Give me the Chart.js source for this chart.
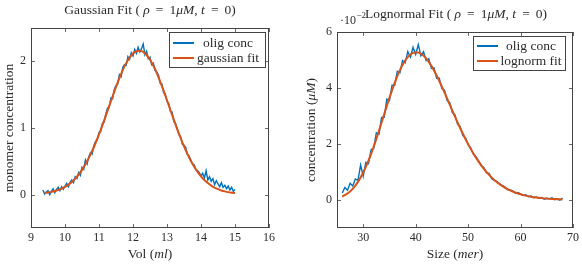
<!DOCTYPE html>
<html><head><meta charset="utf-8">
<script src="https://cdn.jsdelivr.net/npm/chart.js@4/dist/chart.umd.min.js"></script>
<style>
html,body{margin:0;padding:0;background:#fff;}
#wrap{position:relative;width:582px;height:267px;overflow:hidden;}
canvas{position:absolute;top:0;}
</style></head><body>
<div id="wrap">
<canvas id="c1" width="291" height="267" style="left:0"></canvas>
<canvas id="c2" width="291" height="267" style="left:291px"></canvas>
</div>
<script>
// ---------- Left panel: Gaussian fit ----------
const gaussOligVol = [9.35,9.4,9.45,9.5,9.55,9.6,9.65,9.7,9.75,9.8,9.85,9.9,9.95,
10,10.05,10.1,10.15,10.2,10.25,10.3,10.35,10.4,10.45,10.5,10.55,10.6,10.65,10.7,10.75,10.8,10.85,10.9,10.95,
11,11.05,11.1,11.15,11.2,11.25,11.3,11.35,11.4,11.45,11.5,11.55,11.6,11.65,11.7,11.75,11.8,11.85,11.9,11.95,
12,12.05,12.1,12.15,12.2,12.25,12.3,12.35,12.4,12.45,12.5,12.55,12.6,12.65,12.7,12.75,12.8,12.85,12.9,12.95,
13,13.05,13.1,13.15,13.2,13.25,13.3,13.35,13.4,13.45,13.5,13.55,13.6,13.65,13.7,13.75,13.8,13.85,13.9,13.95,
14,14.05,14.1,14.15,14.2,14.25,14.3,14.35,14.4,14.45,14.5,14.55,14.6,14.65,14.7,14.75,14.8,14.85,14.9,14.95,15];
const gaussOligConc = [0.07,0.01,0.04,0.06,0.00,0.05,0.09,0.03,0.08,0.11,0.06,0.12,0.08,
0.13,0.17,0.12,0.19,0.22,0.18,0.27,0.24,0.33,0.29,0.41,0.38,0.52,0.46,0.57,0.63,0.61,0.74,0.80,0.82,
0.93,0.95,1.07,1.09,1.21,1.30,1.31,1.45,1.44,1.58,1.64,1.66,1.80,1.77,1.91,1.95,1.94,2.07,2.03,2.13,
2.08,2.18,2.12,2.21,2.14,2.19,2.26,2.10,2.15,2.04,2.06,1.95,1.97,1.86,1.84,1.79,1.67,1.66,1.53,1.51,
1.40,1.37,1.25,1.24,1.10,1.07,0.99,0.90,0.87,0.76,0.74,0.71,0.60,0.58,0.52,0.46,0.45,0.37,0.36,0.33,
0.28,0.32,0.25,0.36,0.22,0.27,0.20,0.24,0.15,0.21,0.16,0.12,0.18,0.11,0.14,0.09,0.13,0.07,0.11,0.05,0.08];
const gaussFitVol = [9.4,9.5,9.6,9.7,9.8,9.9,10,10.1,10.2,10.3,10.4,10.5,10.6,10.7,10.8,10.9,
11,11.1,11.2,11.3,11.4,11.5,11.6,11.7,11.8,11.9,12,12.1,12.2,12.3,12.4,12.5,12.6,12.7,12.8,12.9,
13,13.1,13.2,13.3,13.4,13.5,13.6,13.7,13.8,13.9,14,14.1,14.2,14.3,14.4,14.5,14.6,14.7,14.8,14.9,15];
const gaussFitConc = [0.026,0.033,0.042,0.054,0.070,0.091,0.117,0.150,0.191,0.241,0.301,0.372,0.455,0.549,0.656,0.775,
0.903,1.040,1.183,1.329,1.474,1.616,1.749,1.869,1.973,2.056,2.116,2.151,2.160,2.141,2.095,2.025,1.933,1.823,1.697,1.560,
1.416,1.270,1.125,0.984,0.850,0.726,0.612,0.510,0.420,0.342,0.276,0.220,0.174,0.136,0.106,0.082,0.063,0.049,0.038,0.030,0.024];
const gaussXTicks = [9,10,11,12,13,14,15,16];
const gaussYTicks = [0,1,2];

// ---------- Right panel: Lognormal fit (concentration in units of 1e-2 uM) ----------
const lognOligSize = [26,26.5,27,27.5,28,28.5,29,29.5,30,30.5,31,31.5,32,32.5,33,33.5,34,34.5,35,35.5,
36,36.5,37,37.5,38,38.5,39,39.5,40,40.5,41,41.5,42,42.5,43,43.5,44,44.5,45,45.5,
46,46.5,47,47.5,48,48.5,49,49.5,50,50.5,51,51.5,52,52.5,53,53.5,54,54.5,55,55.5,
56,56.5,57,57.5,58,58.5,59,59.5,60,60.5,61,61.5,62,62.5,63,63.5,64,64.5,65,65.5,
66,66.5,67,67.5,68];
const lognOligConc = [0.25,0.45,0.35,0.60,0.50,0.75,0.70,1.25,0.85,1.35,1.30,1.80,1.85,2.40,2.35,2.95,2.95,3.60,3.55,4.10,
4.10,4.60,4.55,4.98,4.90,5.30,5.10,5.45,5.20,5.55,5.15,5.30,4.98,5.05,4.70,4.72,4.35,4.35,3.98,3.92,
3.55,3.48,3.12,3.04,2.70,2.62,2.30,2.22,1.98,1.86,1.64,1.55,1.40,1.22,1.16,0.97,0.95,0.76,0.70,0.66,
0.58,0.52,0.47,0.37,0.36,0.33,0.24,0.27,0.22,0.16,0.19,0.12,0.14,0.08,0.11,0.06,0.09,0.03,0.06,0.04,
0.08,0.01,0.04,-0.01,0.07];
const lognFitSize = [26,27,28,29,30,31,32,33,34,35,36,37,38,39,40,41,42,43,44,45,46,47,
48,49,50,51,52,53,54,55,56,57,58,59,60,61,62,63,64,65,66,67,68];
const lognFitConc = [0.124,0.231,0.400,0.646,0.980,1.403,1.906,2.470,3.063,3.645,4.183,4.638,4.983,5.199,5.280,5.228,5.059,4.790,4.445,4.047,3.624,3.191,
2.766,2.365,1.995,1.662,1.369,1.114,0.898,0.717,0.567,0.445,0.347,0.268,0.205,0.156,0.118,0.089,0.067,0.050,0.037,0.027,0.020];
const lognXTicks = [30,40,50,60,70];
const lognYTicks = [0,2,4,6];

const BLUE = '#0072BD', ORANGE = '#D95319', TXT = '#2b2b2b', FRAME = '#444444';
const FONT = '"Liberation Serif", "DejaVu Serif", serif';
const LBL = 13.5;

function pts(xs, ys){ return xs.map((x,i)=>({x:x, y:ys[i]})); }

function fontStr(size, it){ return (it ? 'italic ' : '') + size + 'px ' + FONT; }
function richWidth(ctx, segs, size){
  let w = 0;
  for (const s of segs){ ctx.font = fontStr(size, s[1]); w += ctx.measureText(s[0]).width; }
  return w;
}
function drawRich(ctx, segs, cx, cy, size, align){
  const w = richWidth(ctx, segs, size);
  let x = align === 'left' ? cx : cx - w/2;
  ctx.textBaseline = 'middle'; ctx.textAlign = 'left'; ctx.fillStyle = TXT;
  for (const s of segs){ ctx.font = fontStr(size, s[1]); ctx.fillText(s[0], x, cy); x += ctx.measureText(s[0]).width; }
}

const decoPlugin = {
  id: 'deco',
  beforeDatasetsDraw(chart){
    const o = chart.options.plugins.deco; const ctx = chart.ctx; const a = chart.chartArea;
    const xs = chart.scales.x, ys = chart.scales.y;
    ctx.save();
    ctx.strokeStyle = FRAME; ctx.lineWidth = 0.8;
    ctx.beginPath();
    for (const v of o.xTicks){ const p = Math.round(xs.getPixelForValue(v))+0.5;
      ctx.moveTo(p, a.bottom); ctx.lineTo(p, a.bottom-4); ctx.moveTo(p, a.top); ctx.lineTo(p, a.top+4); }
    for (const v of o.yTicks){ const p = Math.round(ys.getPixelForValue(v))+0.5;
      ctx.moveTo(a.left, p); ctx.lineTo(a.left+4, p); ctx.moveTo(a.right, p); ctx.lineTo(a.right-4, p); }
    ctx.stroke();
    ctx.lineWidth = 1;
    ctx.strokeRect(a.left+0.5, a.top+0.5, a.right-a.left-1, a.bottom-a.top-1);
    ctx.restore();
  },
  afterDatasetsDraw(chart){
    const o = chart.options.plugins.deco; const ctx = chart.ctx; const a = chart.chartArea;
    ctx.save();
    drawRich(ctx, o.title, o.titlePos[0], o.titlePos[1], LBL);
    drawRich(ctx, o.xLabel, (a.left+a.right)/2, o.xLabelY, LBL);
    ctx.save(); ctx.translate(o.yLabelX, (a.top+a.bottom)/2); ctx.rotate(-Math.PI/2);
    drawRich(ctx, o.yLabel, 0, 0, LBL); ctx.restore();
    if (o.expo){
      drawRich(ctx, [['\u00b710']], o.expo[0], o.expo[1], 12, 'left');
      ctx.font = fontStr(12, false); const w = ctx.measureText('\u00b710').width;
      drawRich(ctx, [['\u22122']], o.expo[0]+w+0.5, o.expo[1]-5, 9, 'left');
    }
    const L = o.legend;
    const bx = a.right - L.right - L.w, by = a.top + L.top;
    ctx.fillStyle = '#fff'; ctx.fillRect(bx, by, L.w, L.h);
    ctx.strokeStyle = FRAME; ctx.lineWidth = 1; ctx.strokeRect(bx+0.5, by+0.5, L.w-1, L.h-1);
    L.items.forEach((it, i) => {
      const yy = by + L.row0 + i*L.dy;
      ctx.strokeStyle = it.color; ctx.lineWidth = 2; ctx.beginPath();
      ctx.moveTo(bx+4, yy); ctx.lineTo(bx+25, yy); ctx.stroke();
      drawRich(ctx, [[it.text]], bx + L.textC, yy, LBL);
    });
    ctx.restore();
  }
};

function makeChart(id, cfg){
  return new Chart(document.getElementById(id), {
    type: 'line',
    data: { datasets: [
      { label: cfg.fitLabel, data: cfg.fit, borderColor: ORANGE, borderWidth: 2, pointRadius: 0, tension: 0.3, order: 0 },
      { label: 'olig conc', data: cfg.olig, borderColor: BLUE, borderWidth: 1.4, pointRadius: 0, tension: 0, order: 1 }
    ]},
    options: {
      responsive: false, animation: false, devicePixelRatio: 1,
      layout: { padding: { top: cfg.padTop, right: cfg.padRight, left: 0, bottom: 0 } },
      plugins: { legend: { display: false }, tooltip: { enabled: false }, title: { display: false },
        deco: cfg.deco },
      scales: {
        x: { type: 'linear', min: cfg.xMin, max: cfg.xMax,
          grid: { display: false, drawTicks: false }, border: { display: false },
          ticks: { padding: 3, color: TXT, font: { family: FONT, size: 12 }, maxRotation: 0 },
          afterBuildTicks: s => { s.ticks = cfg.deco.xTicks.map(v => ({ value: v })); },
          afterFit: s => { s.height = 39; } },
        y: { type: 'linear', min: cfg.yMin, max: cfg.yMax,
          grid: { display: false, drawTicks: false }, border: { display: false },
          ticks: { padding: 5, color: TXT, font: { family: FONT, size: 12 } },
          afterBuildTicks: s => { s.ticks = cfg.deco.yTicks.map(v => ({ value: v })); },
          afterFit: s => { s.width = cfg.yWidth; } }
      }
    },
    plugins: [decoPlugin]
  });
}

makeChart('c1', {
  fitLabel: 'gaussian fit',
  fit: pts(gaussFitVol, gaussFitConc), olig: pts(gaussOligVol, gaussOligConc),
  padTop: 28, padRight: 22, yWidth: 31, xMin: 9, xMax: 16, yMin: -0.5, yMax: 2.5,
  deco: {
    xTicks: gaussXTicks, yTicks: gaussYTicks,
    title: [['Gaussian Fit ( '],['\u03c1',1],[' \u2009=\u2009 1'],['\u03bcM',1],[', '],['t',1],[' \u2009=\u2009 0)']],
    titlePos: [150, 10],
    xLabel: [['Vol ('],['ml',1],[')']], xLabelY: 254,
    yLabel: [['monomer concentration']], yLabelX: 9,
    legend: { right: 3, top: 4, w: 97, h: 36, row0: 11, dy: 15, textC: 59,
      items: [{ text: 'olig conc', color: BLUE }, { text: 'gaussian fit', color: ORANGE }] }
  }
});

makeChart('c2', {
  fitLabel: 'lognorm fit',
  fit: pts(lognFitSize, lognFitConc), olig: pts(lognOligSize, lognOligConc),
  padTop: 32, padRight: 7, yWidth: 46, xMin: 25, xMax: 70, yMin: -1, yMax: 6,
  deco: {
    xTicks: lognXTicks, yTicks: lognYTicks,
    title: [['Lognormal Fit ( '],['\u03c1',1],[' \u2009=\u2009 1'],['\u03bcM',1],[', '],['t',1],[' \u2009=\u2009 0)']],
    titlePos: [165, 14],
    xLabel: [['Size ('],['mer',1],[')']], xLabelY: 254,
    yLabel: [['concentration ('],['\u03bcM',1],[')']], yLabelX: 20,
    expo: [49, 21],
    legend: { right: 7, top: 4, w: 93, h: 35, row0: 10, dy: 15, textC: 58,
      items: [{ text: 'olig conc', color: BLUE }, { text: 'lognorm fit', color: ORANGE }] }
  }
});
</script>
</body></html>
